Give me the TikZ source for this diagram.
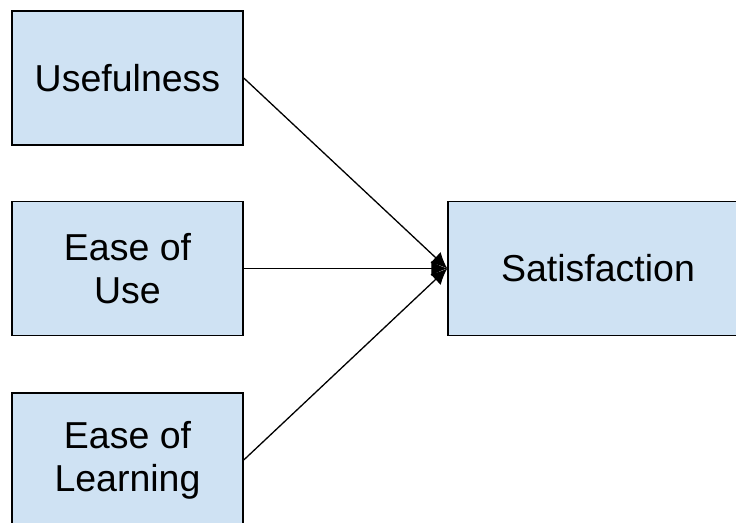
\documentclass[tikz,border=0pt]{standalone}
\usepackage{fontspec}
\setmainfont{Liberation Sans}
\usepackage{tikz}
\usetikzlibrary{arrows.meta,positioning}
\definecolor{boxblue}{HTML}{CFE2F3}
\tikzset{%
	factor/.style = {draw, line width=1.5pt, fill=boxblue, rectangle, minimum width=231pt, minimum height=134pt, inner sep=0pt, align=center, font=\fontsize{37.5}{43}\selectfont},
	result/.style = {factor, minimum width=300pt},
	arrow/.style  = {line width=1.3pt, -{Latex[length=16pt,width=15pt]}},
}
\begin{document}
\begin{tikzpicture}[x=1pt,y=1pt]
		\useasboundingbox (0,0) rectangle (736,522);
		
		\node[factor] (useful) at (127.5,444) {Usefulness};
		\node[factor] (easeuse) at (127.5,253.5) {Ease of\\Use};
		\node[factor] (easelearn) at (127.5,62) {Ease of\\Learning};
		\node[result] (satisf) at (598,253.5) {Satisfaction};
		
		\foreach \src in {useful,easeuse,easelearn} \draw[arrow] (\src.east) -- (satisf.west);
	\end{tikzpicture}
\end{document}
